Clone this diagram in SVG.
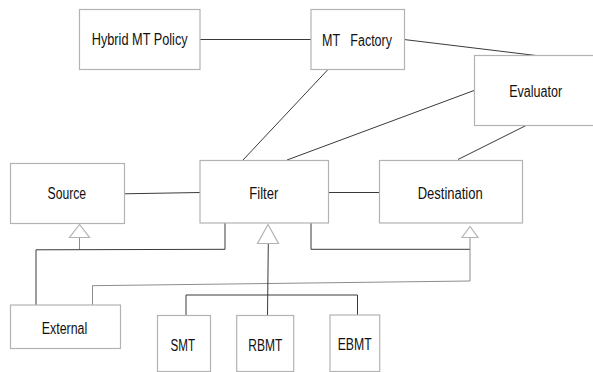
<svg xmlns="http://www.w3.org/2000/svg" width="593" height="372" viewBox="0 0 593 372">
<style>
.box{fill:#fff;stroke:#b3b3b3;stroke-width:1.2}
.lbl{font-family:"Liberation Sans",Arial,sans-serif;font-size:16px;fill:#111}
.con{fill:none;stroke:#3a3a3a;stroke-width:1}
.gen{fill:none;stroke:#8c8c8c;stroke-width:1}
.tri{fill:#fff;stroke:#b3b3b3;stroke-width:1.2}
</style>
<rect width="593" height="372" fill="#fff"/>
<g id="connectors">
<line class="con" x1="200" y1="39.5" x2="311" y2="39.5"/>
<line class="con" x1="404" y1="39.5" x2="536" y2="55.5"/>
<line class="con" x1="328" y1="69.5" x2="243" y2="160"/>
<line class="con" x1="474" y1="90.5" x2="287" y2="160"/>
<line class="con" x1="526" y1="125.5" x2="458" y2="159.5"/>
<line class="con" x1="124.5" y1="193.8" x2="200" y2="192.5"/>
<line class="con" x1="328.5" y1="192.5" x2="379.5" y2="192.5"/>
<polyline class="gen" points="79.5,237.5 79.5,249.5"/>
<polyline class="con" points="36,305 36,249.8 225,249.3 225,223"/>
<polyline class="con" points="311,223 311,249.3 470,249.3"/>
<polyline class="gen" points="470,237.5 470,281 92.5,285.7 92.5,305"/>
<polyline class="con" points="268.3,243.5 267.5,315.5"/>
<polyline class="con" points="186,315.5 186,295 357.5,295 357.5,315"/>
<polygon class="tri" points="79.5,224.5 69.5,237.5 89.5,237.5"/>
<polygon class="tri" points="268,224.5 257.5,243.5 278.5,243.5"/>
<polygon class="tri" points="470,226.5 462,237.5 478,237.5"/>
</g>
<g id="hybrid"><rect class="box" x="79.5" y="9.5" width="120.5" height="60"/><text class="lbl" x="139.7" y="44.8" text-anchor="middle" textLength="96" lengthAdjust="spacingAndGlyphs">Hybrid MT Policy</text></g>
<g id="factory"><rect class="box" x="311" y="9.5" width="93.5" height="60"/><text class="lbl" x="357" y="45.5" text-anchor="middle" textLength="70" lengthAdjust="spacingAndGlyphs" xml:space="preserve">MT   Factory</text></g>
<g id="evaluator"><rect class="box" x="474.5" y="55.5" width="125" height="70"/><text class="lbl" x="535.7" y="96.5" text-anchor="middle" textLength="53" lengthAdjust="spacingAndGlyphs">Evaluator</text></g>
<g id="source"><rect class="box" x="10.5" y="163.5" width="114" height="60"/><text class="lbl" x="66.8" y="199.3" text-anchor="middle" textLength="38.5" lengthAdjust="spacingAndGlyphs">Source</text></g>
<g id="filter"><rect class="box" x="200" y="160.5" width="128.5" height="62.5"/><text class="lbl" x="263.8" y="198.7" text-anchor="middle" textLength="29" lengthAdjust="spacingAndGlyphs">Filter</text></g>
<g id="destination"><rect class="box" x="379.5" y="160.5" width="143" height="62.5"/><text class="lbl" x="450.2" y="198.7" text-anchor="middle" textLength="65" lengthAdjust="spacingAndGlyphs">Destination</text></g>
<g id="external"><rect class="box" x="10.5" y="305" width="110" height="43.5"/><text class="lbl" x="64.5" y="333.5" text-anchor="middle" textLength="45.5" lengthAdjust="spacingAndGlyphs">External</text></g>
<g id="smt"><rect class="box" x="157.5" y="315.5" width="53" height="56"/><text class="lbl" x="182.8" y="350.8" text-anchor="middle" textLength="24.5" lengthAdjust="spacingAndGlyphs">SMT</text></g>
<g id="rbmt"><rect class="box" x="236.7" y="315.5" width="57" height="56"/><text class="lbl" x="265.3" y="350.8" text-anchor="middle" textLength="34" lengthAdjust="spacingAndGlyphs">RBMT</text></g>
<g id="ebmt"><rect class="box" x="330" y="315" width="49.7" height="56.5"/><text class="lbl" x="354.7" y="349.5" text-anchor="middle" textLength="34" lengthAdjust="spacingAndGlyphs">EBMT</text></g>
</svg>
